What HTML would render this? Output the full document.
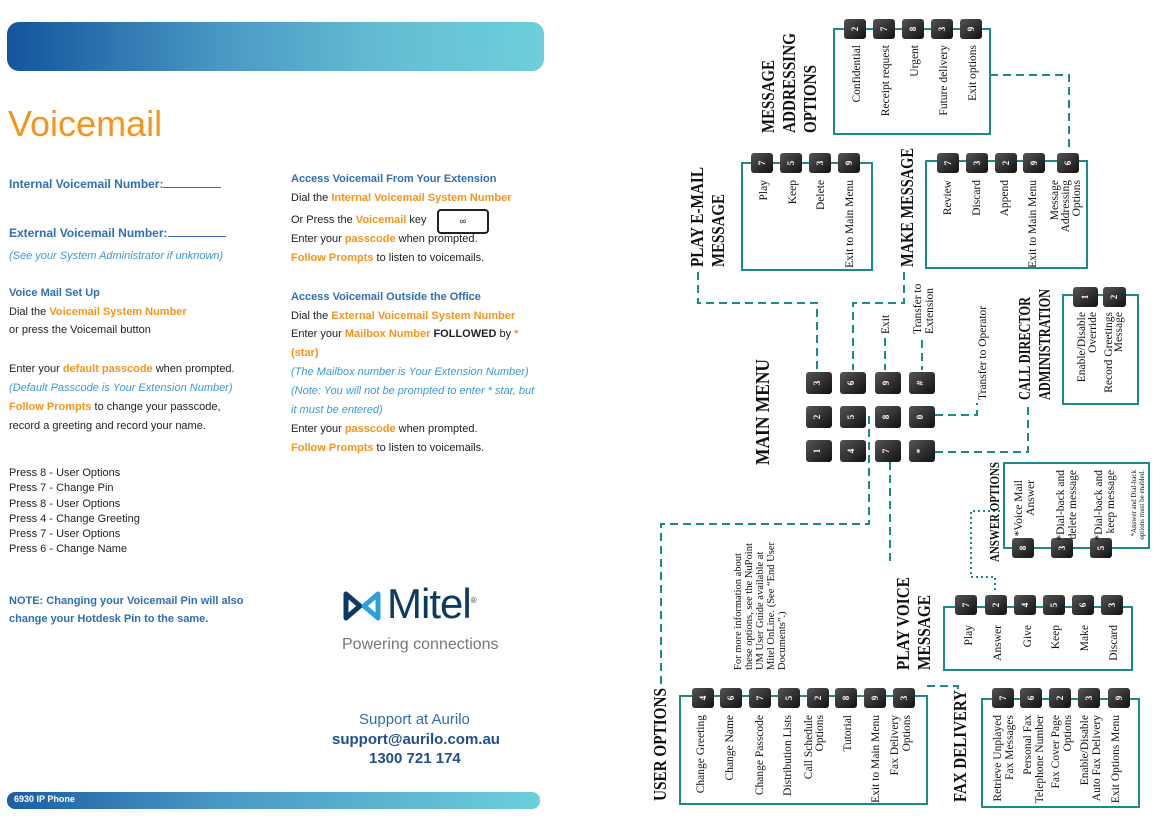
<!DOCTYPE html>
<html><head><meta charset="utf-8"><style>
body{margin:0;width:1173px;height:826px;position:relative;background:#fff;overflow:hidden;font-family:"Liberation Sans",sans-serif;}
.a{position:absolute;white-space:nowrap;font-size:11px;color:#222;}
.b{color:#2e6fb7;font-weight:bold;}
.o{color:#f7941d;font-weight:bold;}
.i{color:#3a9ad9;font-style:italic;}
svg text{font-family:"Liberation Serif",serif;}
.t{font-weight:bold;fill:#111;}
.l{font-size:11.5px;fill:#111;}
.k{font-family:"Liberation Sans",sans-serif !important;font-size:9px;font-weight:bold;fill:#fff;}
</style></head><body>
<div style="position:absolute;left:7px;top:22px;width:537px;height:49px;border-radius:12px;background:linear-gradient(90deg,#15559e 0%,#1a5fa3 6%,#4a98c4 40%,#64bdd3 70%,#6ccfdb 100%);"></div>
<div class="a" style="left:8px;top:103px;font-size:36px;color:#f7941d;">Voicemail</div>
<div class="a b" style="left:9px;top:177px;font-size:12px;">Internal Voicemail Number:<span style="display:inline-block;width:58px;border-bottom:1px solid #2e6fb7;"></span></div>
<div class="a b" style="left:9px;top:226px;font-size:12px;">External Voicemail Number:<span style="display:inline-block;width:58px;border-bottom:1px solid #2e6fb7;"></span></div>
<div class="a i" style="left:9px;top:250px;">(See your System Administrator if unknown)</div>
<div class="a b" style="left:9px;top:287px;">Voice Mail Set Up</div>
<div class="a" style="left:9px;top:306px;">Dial the <span class="o">Voicemail System Number</span></div>
<div class="a" style="left:9px;top:324px;">or press the Voicemail button</div>
<div class="a" style="left:9px;top:363px;">Enter your <span class="o">default passcode</span> when prompted.</div>
<div class="a i" style="left:9px;top:382px;">(Default Passcode is Your Extension Number)</div>
<div class="a" style="left:9px;top:401px;"><span class="o">Follow Prompts</span> to change your passcode,</div>
<div class="a" style="left:9px;top:420px;">record a greeting and record your name.</div>
<div class="a" style="left:9px;top:466px;line-height:15.3px;">Press 8 - User Options<br>Press 7 - Change Pin<br>Press 8 - User Options<br>Press 4 - Change Greeting<br>Press 7 - User Options<br>Press 6 - Change Name</div>
<div class="a b" style="left:9px;top:592px;line-height:18px;">NOTE: Changing your Voicemail Pin will also<br>change your Hotdesk Pin to the same.</div>

<div class="a b" style="left:291px;top:173px;">Access Voicemail From Your Extension</div>
<div class="a" style="left:291px;top:192px;">Dial the <span class="o">Internal Voicemail System Number</span></div>
<div class="a" style="left:291px;top:214px;">Or Press the <span class="o">Voicemail</span> key</div>
<div style="position:absolute;left:437px;top:209px;width:48px;height:21px;border:2px solid #222;border-radius:4px;font-size:9px;text-align:center;line-height:20px;">&#8734;</div>
<div class="a" style="left:291px;top:233px;">Enter your <span class="o">passcode</span> when prompted.</div>
<div class="a" style="left:291px;top:252px;"><span class="o">Follow Prompts</span> to listen to voicemails.</div>
<div class="a b" style="left:291px;top:291px;">Access Voicemail Outside the Office</div>
<div class="a" style="left:291px;top:310px;">Dial the <span class="o">External Voicemail System Number</span></div>
<div class="a" style="left:291px;top:328px;">Enter your <span class="o">Mailbox Number</span> <b>FOLLOWED</b> by <span class="o">*</span></div>
<div class="a o" style="left:291px;top:347px;">(star)</div>
<div class="a i" style="left:291px;top:366px;">(The Mailbox number is Your Extension Number)</div>
<div class="a i" style="left:291px;top:385px;">(Note: You will not be prompted to enter * star, but</div>
<div class="a i" style="left:291px;top:404px;">it must be entered)</div>
<div class="a" style="left:291px;top:423px;">Enter your <span class="o">passcode</span> when prompted.</div>
<div class="a" style="left:291px;top:442px;"><span class="o">Follow Prompts</span> to listen to voicemails.</div>

<svg style="position:absolute;left:342px;top:588px" width="40" height="36" viewBox="0 0 40 36">
<path d="M4,6 L18,18 L4,30 Z" fill="none" stroke="#0d3a63" stroke-width="5" stroke-linejoin="round"/>
<path d="M36,6 L22,18 L36,30 Z" fill="none" stroke="#2ba0dc" stroke-width="5" stroke-linejoin="round"/>
</svg>
<div class="a" style="left:387px;top:580px;font-size:42px;color:#0d3a63;letter-spacing:-1px;">Mitel<sup style="font-size:8px">®</sup></div>
<div class="a" style="left:342px;top:636px;font-size:16px;color:#777;">Powering connections</div>
<div class="a" style="left:359px;top:711px;font-size:15px;color:#2e6fb7;">Support at Aurilo</div>
<div class="a" style="left:332px;top:731px;font-size:15px;color:#1f4f8f;font-weight:bold;">support@aurilo.com.au</div>
<div class="a" style="left:369px;top:750px;font-size:15px;color:#1f4f8f;font-weight:bold;">1300 721 174</div>
<div style="position:absolute;left:7px;top:792px;width:533px;height:17px;border-radius:8px;background:linear-gradient(90deg,#1a5fa3,#4a98c4 40%,#6ccfdb);"></div>
<div class="a" style="left:14px;top:794px;font-size:9px;color:#fff;font-weight:bold;">6930 IP Phone</div>

<svg style="position:absolute;left:0;top:0" width="1173" height="826">
<defs><linearGradient id="kg" x1="0" y1="0" x2="1" y2="1"><stop offset="0" stop-color="#555"/><stop offset="1" stop-color="#111"/></linearGradient></defs>
<g fill="none" stroke="#1a8a8a" stroke-width="2" stroke-dasharray="8 5">
<path d="M990,75 H1069 V152"/><path d="M698,272 V303 H817 V370"/><path d="M904,272 V303 H853 V370"/>
<path d="M885,338 V370"/><path d="M922,340 V370"/><path d="M935,415 H977 V403"/><path d="M935,452 H1028 V403"/>
<path d="M869,416 V524 H661 V688"/><path d="M890,462 V566"/><path d="M927,686 H958 V692"/>
</g>
<path d="M1000,511 H971 V577 H995 V593" fill="none" stroke="#1a8a8a" stroke-width="2" stroke-dasharray="2 3"/>
<g fill="none" stroke="#1a8a8a" stroke-width="2">
<rect x="834" y="29" width="156" height="105"/><rect x="742" y="163" width="130" height="107"/>
<rect x="926" y="161" width="161" height="107"/><rect x="1063" y="295" width="75" height="109"/>
<rect x="1004" y="463" width="145" height="85"/><rect x="944" y="607" width="188" height="63"/>
<rect x="680" y="696" width="247" height="108"/><rect x="982" y="699" width="157" height="108"/>
</g>
<g fill="url(#kg)">
<rect x="844" y="19" width="22" height="20" rx="3"/><rect x="873" y="19" width="22" height="20" rx="3"/><rect x="902" y="19" width="22" height="20" rx="3"/><rect x="931" y="19" width="22" height="20" rx="3"/><rect x="960" y="19" width="22" height="20" rx="3"/>
<rect x="751" y="153" width="22" height="20" rx="3"/><rect x="780" y="153" width="22" height="20" rx="3"/><rect x="809" y="153" width="22" height="20" rx="3"/><rect x="838" y="153" width="22" height="20" rx="3"/>
<rect x="937" y="153" width="22" height="20" rx="3"/><rect x="966" y="153" width="22" height="20" rx="3"/><rect x="995" y="153" width="22" height="20" rx="3"/><rect x="1023" y="153" width="22" height="20" rx="3"/><rect x="1057" y="153" width="22" height="20" rx="3"/>
<rect x="806" y="372" width="26" height="22" rx="3"/><rect x="840" y="372" width="26" height="22" rx="3"/><rect x="875" y="372" width="26" height="22" rx="3"/><rect x="909" y="372" width="26" height="22" rx="3"/>
<rect x="806" y="406" width="26" height="22" rx="3"/><rect x="840" y="406" width="26" height="22" rx="3"/><rect x="875" y="406" width="26" height="22" rx="3"/><rect x="909" y="406" width="26" height="22" rx="3"/>
<rect x="806" y="440" width="26" height="22" rx="3"/><rect x="840" y="440" width="26" height="22" rx="3"/><rect x="875" y="440" width="26" height="22" rx="3"/><rect x="909" y="440" width="26" height="22" rx="3"/>
<rect x="1073" y="287" width="25" height="20" rx="3"/><rect x="1103" y="287" width="23" height="20" rx="3"/>
<rect x="1012" y="538" width="22" height="20" rx="3"/><rect x="1051" y="538" width="22" height="20" rx="3"/><rect x="1090" y="538" width="22" height="20" rx="3"/>
<rect x="955" y="595" width="22" height="20" rx="3"/><rect x="985" y="595" width="22" height="20" rx="3"/><rect x="1014" y="595" width="22" height="20" rx="3"/><rect x="1043" y="595" width="22" height="20" rx="3"/><rect x="1072" y="595" width="22" height="20" rx="3"/><rect x="1101" y="595" width="22" height="20" rx="3"/>
<rect x="692" y="688" width="22" height="20" rx="3"/><rect x="720" y="688" width="22" height="20" rx="3"/><rect x="749" y="688" width="22" height="20" rx="3"/><rect x="778" y="688" width="22" height="20" rx="3"/><rect x="807" y="688" width="22" height="20" rx="3"/><rect x="835" y="688" width="22" height="20" rx="3"/><rect x="864" y="688" width="22" height="20" rx="3"/><rect x="893" y="688" width="22" height="20" rx="3"/>
<rect x="992" y="688" width="22" height="20" rx="3"/><rect x="1020" y="688" width="22" height="20" rx="3"/><rect x="1049" y="688" width="22" height="20" rx="3"/><rect x="1078" y="688" width="22" height="20" rx="3"/><rect x="1108" y="688" width="22" height="20" rx="3"/>
</g>
<g class="k" text-anchor="middle">
<text transform="translate(858,29) rotate(-90)">2</text><text transform="translate(887,29) rotate(-90)">7</text><text transform="translate(916,29) rotate(-90)">8</text><text transform="translate(945,29) rotate(-90)">3</text><text transform="translate(974,29) rotate(-90)">9</text>
<text transform="translate(765,163) rotate(-90)">7</text><text transform="translate(794,163) rotate(-90)">5</text><text transform="translate(823,163) rotate(-90)">3</text><text transform="translate(852,163) rotate(-90)">9</text>
<text transform="translate(951,163) rotate(-90)">7</text><text transform="translate(980,163) rotate(-90)">3</text><text transform="translate(1009,163) rotate(-90)">2</text><text transform="translate(1037,163) rotate(-90)">9</text><text transform="translate(1071,163) rotate(-90)">6</text>
<text transform="translate(820,383) rotate(-90)">3</text><text transform="translate(854,383) rotate(-90)">6</text><text transform="translate(889,383) rotate(-90)">9</text><text transform="translate(923,383) rotate(-90)">#</text>
<text transform="translate(820,417) rotate(-90)">2</text><text transform="translate(854,417) rotate(-90)">5</text><text transform="translate(889,417) rotate(-90)">8</text><text transform="translate(923,417) rotate(-90)">0</text>
<text transform="translate(820,451) rotate(-90)">1</text><text transform="translate(854,451) rotate(-90)">4</text><text transform="translate(889,451) rotate(-90)">7</text><text transform="translate(923,451) rotate(-90)">*</text>
<text transform="translate(1088,297) rotate(-90)">1</text><text transform="translate(1117,297) rotate(-90)">2</text>
<text transform="translate(1026,548) rotate(-90)">8</text><text transform="translate(1065,548) rotate(-90)">3</text><text transform="translate(1104,548) rotate(-90)">5</text>
<text transform="translate(969,605) rotate(-90)">7</text><text transform="translate(999,605) rotate(-90)">2</text><text transform="translate(1028,605) rotate(-90)">4</text><text transform="translate(1057,605) rotate(-90)">5</text><text transform="translate(1086,605) rotate(-90)">6</text><text transform="translate(1115,605) rotate(-90)">3</text>
<text transform="translate(706,698) rotate(-90)">4</text><text transform="translate(734,698) rotate(-90)">6</text><text transform="translate(763,698) rotate(-90)">7</text><text transform="translate(792,698) rotate(-90)">5</text><text transform="translate(821,698) rotate(-90)">2</text><text transform="translate(849,698) rotate(-90)">8</text><text transform="translate(878,698) rotate(-90)">9</text><text transform="translate(907,698) rotate(-90)">3</text>
<text transform="translate(1006,698) rotate(-90)">7</text><text transform="translate(1034,698) rotate(-90)">6</text><text transform="translate(1063,698) rotate(-90)">2</text><text transform="translate(1092,698) rotate(-90)">3</text><text transform="translate(1122,698) rotate(-90)">9</text>
</g>
<g class="t">
<text font-size="18" textLength="73" lengthAdjust="spacingAndGlyphs" transform="translate(774,133) rotate(-90)">MESSAGE</text>
<text font-size="18" textLength="100" lengthAdjust="spacingAndGlyphs" transform="translate(795,133) rotate(-90)">ADDRESSING</text>
<text font-size="18" textLength="68" lengthAdjust="spacingAndGlyphs" transform="translate(816,133) rotate(-90)">OPTIONS</text>
<text font-size="18" textLength="100" lengthAdjust="spacingAndGlyphs" transform="translate(703,267) rotate(-90)">PLAY E-MAIL</text>
<text font-size="18" textLength="73" lengthAdjust="spacingAndGlyphs" transform="translate(724,267) rotate(-90)">MESSAGE</text>
<text font-size="18" textLength="119" lengthAdjust="spacingAndGlyphs" transform="translate(913,267) rotate(-90)">MAKE MESSAGE</text>
<text font-size="20" textLength="106" lengthAdjust="spacingAndGlyphs" transform="translate(769,465) rotate(-90)">MAIN MENU</text>
<text font-size="17" textLength="103" lengthAdjust="spacingAndGlyphs" transform="translate(1030,400) rotate(-90)">CALL DIRECTOR</text>
<text font-size="17" textLength="111" lengthAdjust="spacingAndGlyphs" transform="translate(1050,400) rotate(-90)">ADMINISTRATION</text>
<text font-size="14" textLength="100" lengthAdjust="spacingAndGlyphs" transform="translate(999,562) rotate(-90)">ANSWER OPTIONS</text>
<text font-size="18" textLength="93" lengthAdjust="spacingAndGlyphs" transform="translate(909,670) rotate(-90)">PLAY VOICE</text>
<text font-size="18" textLength="75" lengthAdjust="spacingAndGlyphs" transform="translate(930,670) rotate(-90)">MESSAGE</text>
<text font-size="18" textLength="113" lengthAdjust="spacingAndGlyphs" transform="translate(666,801) rotate(-90)">USER OPTIONS</text>
<text font-size="18" textLength="112" lengthAdjust="spacingAndGlyphs" transform="translate(966,802) rotate(-90)">FAX DELIVERY</text>
</g>
<g class="l">
<text transform="translate(889,334) rotate(-90)">Exit</text>
<text transform="translate(921,334) rotate(-90)">Transfer to</text>
<text transform="translate(933,334) rotate(-90)">Extension</text>
<text transform="translate(986,400) rotate(-90)">Transfer to Operator</text>
</g>
<g class="l" text-anchor="end">
<text transform="translate(860,45) rotate(-90)">Confidential</text>
<text transform="translate(889,45) rotate(-90)">Receipt request</text>
<text transform="translate(918,45) rotate(-90)">Urgent</text>
<text transform="translate(947,45) rotate(-90)">Future delivery</text>
<text transform="translate(976,45) rotate(-90)">Exit options</text>
<text transform="translate(767,180) rotate(-90)">Play</text>
<text transform="translate(796,180) rotate(-90)">Keep</text>
<text transform="translate(824,180) rotate(-90)">Delete</text>
<text transform="translate(853,180) rotate(-90)">Exit to Main Menu</text>
<text transform="translate(951,180) rotate(-90)">Review</text>
<text transform="translate(980,180) rotate(-90)">Discard</text>
<text transform="translate(1008,180) rotate(-90)">Append</text>
<text transform="translate(1036,180) rotate(-90)">Exit to Main Menu</text>
<text transform="translate(1058,180) rotate(-90)">Message</text>
<text transform="translate(1069,180) rotate(-90)">Addressing</text>
<text transform="translate(1080,180) rotate(-90)">Options</text>
<text transform="translate(1085,312) rotate(-90)">Enable/Disable</text>
<text transform="translate(1096,312) rotate(-90)">Override</text>
<text transform="translate(1112,312) rotate(-90)">Record Greetings</text>
<text transform="translate(1122,312) rotate(-90)">Message</text>
<text transform="translate(1022,480) rotate(-90)">*Voice Mail</text>
<text transform="translate(1034,480) rotate(-90)">Answer</text>
<text transform="translate(1064,470) rotate(-90)">*Dial-back and</text>
<text transform="translate(1076,470) rotate(-90)">delete message</text>
<text transform="translate(1102,470) rotate(-90)">*Dial-back and</text>
<text transform="translate(1114,470) rotate(-90)">keep message</text>
<text font-size="7" transform="translate(1136,470) rotate(-90)">*Answer and Dial-back</text>
<text font-size="7" transform="translate(1144,470) rotate(-90)">options must be enabled.</text>
<text transform="translate(972,625) rotate(-90)">Play</text>
<text transform="translate(1001,625) rotate(-90)">Answer</text>
<text transform="translate(1031,625) rotate(-90)">Give</text>
<text transform="translate(1059,625) rotate(-90)">Keep</text>
<text transform="translate(1088,625) rotate(-90)">Make</text>
<text transform="translate(1117,625) rotate(-90)">Discard</text>
<text transform="translate(704,715) rotate(-90)">Change Greeting</text>
<text transform="translate(733,715) rotate(-90)">Change Name</text>
<text transform="translate(763,715) rotate(-90)">Change Passcode</text>
<text transform="translate(791,715) rotate(-90)">Distribution Lists</text>
<text transform="translate(812,715) rotate(-90)">Call Schedule</text>
<text transform="translate(823,715) rotate(-90)">Options</text>
<text transform="translate(851,715) rotate(-90)">Tutorial</text>
<text transform="translate(879,715) rotate(-90)">Exit to Main Menu</text>
<text transform="translate(898,715) rotate(-90)">Fax Delivery</text>
<text transform="translate(910,715) rotate(-90)">Options</text>
<text transform="translate(1001,715) rotate(-90)">Retrieve Unplayed</text>
<text transform="translate(1013,715) rotate(-90)">Fax Messages</text>
<text transform="translate(1031,715) rotate(-90)">Personal Fax</text>
<text transform="translate(1043,715) rotate(-90)">Telephone Number</text>
<text transform="translate(1059,715) rotate(-90)">Fax Cover Page</text>
<text transform="translate(1071,715) rotate(-90)">Options</text>
<text transform="translate(1088,715) rotate(-90)">Enable/Disable</text>
<text transform="translate(1100,715) rotate(-90)">Auto Fax Delivery</text>
<text transform="translate(1119,715) rotate(-90)">Exit Options Menu</text>
</g>
<g font-size="10.5" fill="#111">
<text transform="translate(741,670) rotate(-90)">For more information about</text>
<text transform="translate(752,670) rotate(-90)">these options, see the NuPoint</text>
<text transform="translate(763,670) rotate(-90)">UM User Guide available at</text>
<text transform="translate(774,670) rotate(-90)">Mitel OnLine. (See “End User</text>
<text transform="translate(785,670) rotate(-90)">Documents”.)</text>
</g>
</svg>
</body></html>
